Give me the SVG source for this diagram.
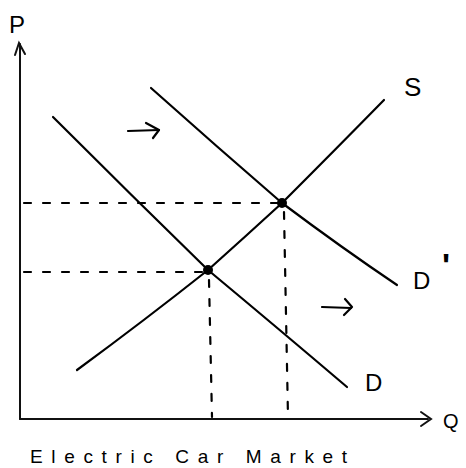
<svg xmlns="http://www.w3.org/2000/svg" width="466" height="468" viewBox="0 0 466 468">
<style>
.ln{fill:none;stroke:#000;stroke-width:2.2;stroke-linecap:round;stroke-linejoin:round}
.ax{fill:none;stroke:#111;stroke-width:2;stroke-linecap:round}
.da{fill:none;stroke:#000;stroke-width:2.2;stroke-dasharray:7 12;stroke-linecap:round}
.lb{font-family:"Liberation Sans",Arial,sans-serif;fill:#000}
</style>
<rect width="466" height="468" fill="#fff"/>
<g id="axes">
<line class="ax" x1="20" y1="44" x2="20" y2="419"/>
<polyline class="ax" points="15,55 19,43 25,54"/>
<line class="ax" x1="20" y1="419" x2="428" y2="419"/>
<polyline class="ax" points="421,412 431,419 421,426"/>
</g>
<g id="connectors">
<line class="da" x1="24" y1="203" x2="278" y2="203"/>
<line class="da" x1="24" y1="272" x2="203" y2="272"/>
<line class="da" x1="209" y1="280" x2="212" y2="417"/>
<line class="da" x1="284" y1="212" x2="288" y2="417"/>
</g>
<g id="curve-D">
<path class="ln" d="M53,117 Q130,194 208,270 Q280,330 347,387"/>
</g>
<g id="curve-Dprime">
<path class="ln" d="M151,88 Q216,146 282,203 Q342,248 397,285"/>
</g>
<g id="curve-S">
<path class="ln" d="M77,370 Q145,320 208,270 Q246,236 282,203 Q335,150 384,100"/>
</g>
<g id="points">
<circle cx="208" cy="270" r="5"/>
<circle cx="282" cy="203" r="5"/>
</g>
<g id="shift-arrows">
<line class="ln" x1="128" y1="131" x2="159" y2="130"/>
<polyline class="ln" points="146,123 159,130 153,138"/>
<line class="ln" x1="322" y1="307" x2="351" y2="308"/>
<polyline class="ln" points="345,299 352,307 344,315"/>
</g>
<g id="labels">
<text class="lb" x="9" y="33" font-size="24">P</text>
<text class="lb" x="443" y="428" font-size="20">Q</text>
<text class="lb" x="404" y="96" font-size="26">S</text>
<text class="lb" x="413" y="289" font-size="24">D</text>
<text class="lb" x="442" y="277" font-size="34" font-weight="bold">'</text>
<text class="lb" x="365" y="391" font-size="24">D</text>
<text class="lb" x="30" y="463" font-size="19" textLength="317" lengthAdjust="spacing">Electric Car Market</text>
</g>
</svg>
